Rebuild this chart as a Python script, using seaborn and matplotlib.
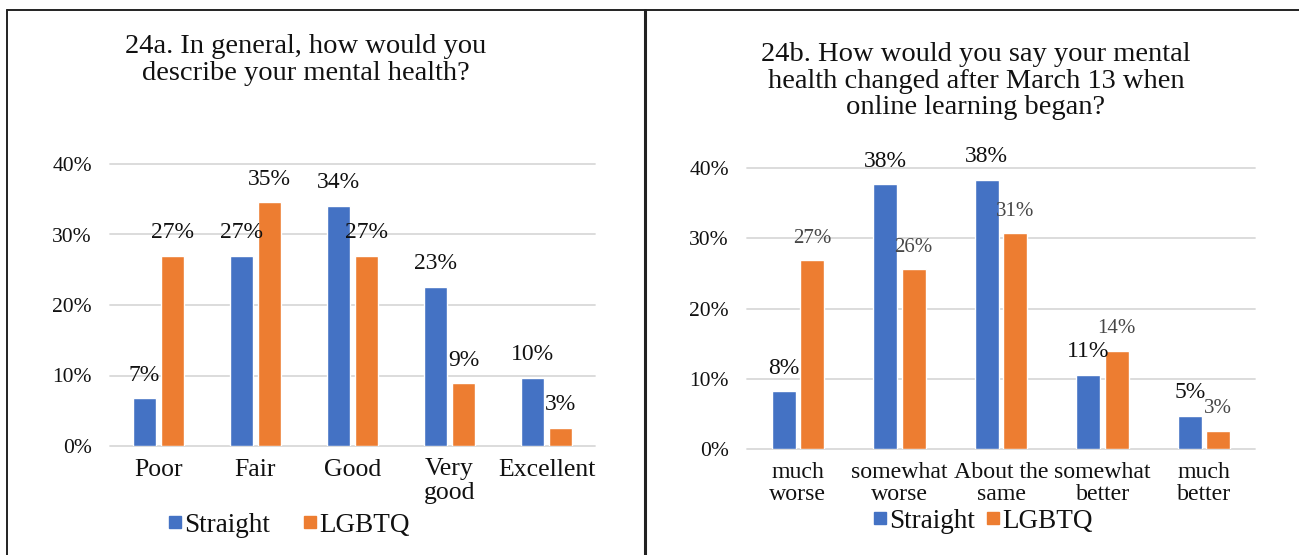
import matplotlib
matplotlib.use("Agg")
import matplotlib.pyplot as plt
from matplotlib.lines import Line2D
from matplotlib.ticker import FuncFormatter
import pandas as pd
import seaborn as sns

# ---- data -------------------------------------------------------------
groups = ["Straight", "LGBTQ"]

health_categories = ["Poor", "Fair", "Good", "Very\ngood", "Excellent"]
health_straight = [6.8, 27.0, 34.1, 22.6, 9.7]
health_lgbtq = [27.0, 34.6, 27.0, 8.9, 2.6]

change_categories = ["much\nworse", "somewhat\nworse", "About the\nsame",
                     "somewhat\nbetter", "much\nbetter"]
change_straight = [8.2, 37.7, 38.3, 10.6, 4.7]
change_lgbtq = [26.9, 25.6, 30.7, 14.0, 2.6]

title_a = "24a. In general, how would you\ndescribe your mental health?"
title_b = ("24b. How would you say your mental\nhealth changed after March 13 when\n"
           "online learning began?")

colors = {"Straight": "#4472C4", "LGBTQ": "#ED7D31"}

# ---- style ------------------------------------------------------------
sns.set_theme(style="white")
plt.rcParams["font.family"] = ["Liberation Serif", "DejaVu Serif"]

W, H = 1299, 555
fig = plt.figure(figsize=(W / 100, H / 100), dpi=100)


def px_axes(x0, x1, y_top, y_bot):
    return fig.add_axes([x0 / W, (H - y_bot) / H, (x1 - x0) / W, (y_bot - y_top) / H])


def long_frame(cats, straight, lgbtq):
    rows = []
    for c, s, l in zip(cats, straight, lgbtq):
        rows.append({"category": c, "group": "Straight", "value": s})
        rows.append({"category": c, "group": "LGBTQ", "value": l})
    return pd.DataFrame(rows)


def draw_panel(ax, cats, straight, lgbtq, width, gap, xsize, label_styles):
    df = long_frame(cats, straight, lgbtq)
    sns.barplot(data=df, x="category", y="value", hue="group", order=cats,
                hue_order=groups, palette=colors, width=width, gap=gap,
                saturation=1, legend=False, ax=ax, errorbar=None)
    ax.set_ylim(0, 40)
    ax.set_yticks([0, 10, 20, 30, 40])
    ax.yaxis.set_major_formatter(FuncFormatter(lambda v, p: f"{v:.0f}%"))
    ax.set_xlabel("")
    ax.set_ylabel("")
    for s in ax.spines.values():
        s.set_visible(False)
    ax.grid(axis="y", color="#D9D9D9", linewidth=1.3)
    ax.set_axisbelow(True)
    for gl in ax.get_ygridlines():
        gl.set_clip_on(False)
    ax.tick_params(axis="y", length=0, pad=13, labelsize=15.5, labelcolor="#111111")
    ax.tick_params(axis="x", length=0, pad=9, labelsize=xsize, labelcolor="#111111")
    for t in ax.get_xticklabels():
        t.set_linespacing(1.1)
    for container, (size, color) in zip(ax.containers, label_styles):
        ax.bar_label(container, fmt="{:.0f}%", padding=9, fontsize=size, color=color)


# ---- panel frames -----------------------------------------------------
frame_kw = dict(color="#222222", linewidth=1.4, transform=fig.transFigure)
fig.add_artist(Line2D([7 / W, 1], [1 - 9.5 / H, 1 - 9.5 / H], **frame_kw))
fig.add_artist(Line2D([7 / W, 7 / W], [0, 1 - 9.5 / H], **frame_kw))
fig.add_artist(Line2D([644.5 / W, 644.5 / W], [0, 1 - 9.5 / H],
                      color="#222222", linewidth=2.2, transform=fig.transFigure))

# ---- left panel -------------------------------------------------------
ax_a = px_axes(110, 595, 164, 446)
draw_panel(ax_a, health_categories, health_straight, health_lgbtq, 0.58, 0.2, 18.5,
           [(17, "#111111"), (17, "#111111")])
fig.text(306 / W, 1 - 60 / H, title_a, ha="center", va="center",
         fontsize=20.5, linespacing=1.1, color="#111111")

# ---- right panel ------------------------------------------------------
ax_b = px_axes(747, 1255, 168, 449)
draw_panel(ax_b, change_categories, change_straight, change_lgbtq, 0.56, 0.16, 17.2,
           [(17, "#111111"), (15, "#474747")])
fig.text(976 / W, 1 - 81 / H, title_b, ha="center", va="center",
         fontsize=20.5, linespacing=1.1, color="#111111")

# ---- legends ----------------------------------------------------------
handles = [Line2D([], [], marker="s", linestyle="none", markersize=9,
                  markerfacecolor=colors[g], markeredgecolor=colors[g]) for g in groups]
leg_kw = dict(ncol=2, frameon=False, fontsize=19.5, handlelength=0.5,
              handletextpad=0.1, columnspacing=1.2, borderaxespad=0,
              labelcolor="#111111")
fig.legend(handles, groups, loc="center", bbox_to_anchor=(289 / W, 1 - 525 / H), **leg_kw)
fig.legend(handles, groups, loc="center", bbox_to_anchor=(983 / W, 1 - 521 / H),
           **dict(leg_kw, columnspacing=0.4))

fig.savefig("out.png", dpi=100)
